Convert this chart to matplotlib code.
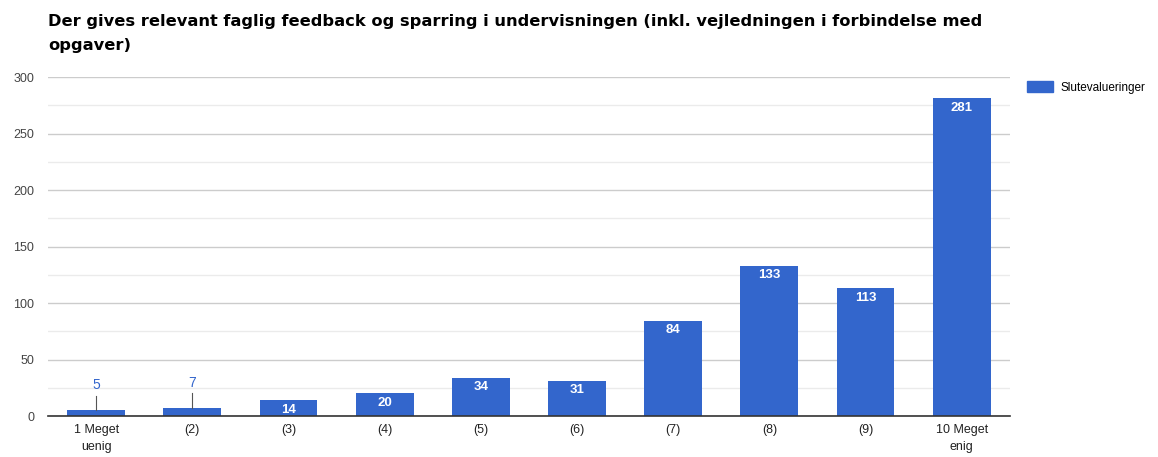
import numpy as np
import matplotlib
matplotlib.use('Agg')
import matplotlib.pyplot as plt
from matplotlib.patches import Patch

categories = ['1 Meget\nuenig', '(2)', '(3)', '(4)', '(5)', '(6)', '(7)', '(8)', '(9)', '10 Meget\nenig']
values = [5, 7, 14, 20, 34, 31, 84, 133, 113, 281]
series_name = 'Slutevalueringer'
title = ('Der gives relevant faglig feedback og sparring i undervisningen (inkl. vejledningen i forbindelse med\n'
         'opgaver)')

bar_color = '#3366cc'
plt.rcParams['font.family'] = ['Liberation Sans', 'DejaVu Sans']

fig = plt.figure(figsize=(11.58, 4.57), dpi=100)
ax = fig.add_axes([0.0415, 0.0897, 0.8305, 0.7418])

x = np.arange(len(categories))
bars = ax.bar(x, values, width=0.6, color=bar_color, zorder=3)

ax.set_xlim(-0.5, len(categories) - 0.5)
ax.set_ylim(0, 300)
ax.set_yticks(np.arange(0, 301, 50))
ax.set_yticks(np.arange(25, 300, 50), minor=True)
ax.grid(axis='y', which='major', color='#cccccc', linewidth=1, zorder=0)
ax.grid(axis='y', which='minor', color='#ebebeb', linewidth=1, zorder=0)
ax.tick_params(axis='y', which='both', length=0, labelsize=9, labelcolor='#444444', pad=10)
ax.tick_params(axis='x', length=0, labelsize=9, labelcolor='#222222', pad=6)
ax.set_xticks(x)
ax.set_xticklabels(categories, linespacing=1.5)
for s in ['top', 'right', 'left']:
    ax.spines[s].set_visible(False)
ax.spines['bottom'].set_color('#333333')
ax.spines['bottom'].set_linewidth(1.2)
ax.spines['bottom'].set_zorder(4)

for xi, v in zip(x, values):
    if v < 12:
        ax.plot([xi, xi], [v, v + 13], color='#555555', linewidth=0.8, zorder=4)
        ax.text(xi, v + 16, str(v), ha='center', va='bottom', color=bar_color, fontsize=10)
    else:
        ax.text(xi, v - 3, str(v), ha='center', va='top', color='white', fontsize=9.5,
                fontweight='bold', zorder=5)

fig.text(0.0415, 0.97, title, ha='left', va='top', fontsize=11.7, fontweight='bold',
         family=['DejaVu Sans'], color='#000000', linespacing=1.75)

fig.legend(handles=[Patch(color=bar_color)], labels=[series_name], loc='upper left',
           bbox_to_anchor=(0.878, 0.845), frameon=False, fontsize=8.5,
           handlelength=2.2, handleheight=1.0, handletextpad=0.6)

fig.savefig('out.png', dpi=100)
